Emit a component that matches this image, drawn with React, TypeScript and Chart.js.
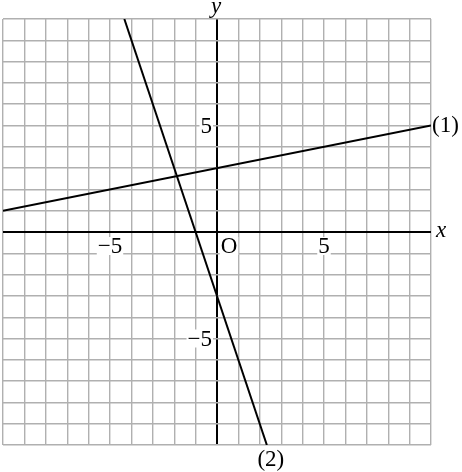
import React, { useEffect, useRef } from "react";
import { Chart, registerables } from "chart.js";

Chart.register(...registerables);

const line1X = [-10, 10];
const line1Y = [1, 5];
const line2X = [-4.33, 2.33];
const line2Y = [10, -10];

const xTickValues = [-5, 5];
const xTickLabels = ["−5", "5"];
const yTickValues = [5, -5];
const yTickLabels = ["5", "−5"];
const originLabel = "O";
const line1Label = "(1)";
const line2Label = "(2)";

const FONT = '"Liberation Serif", "DejaVu Serif", serif';

const labelsPlugin = {
  id: "mathLabels",
  afterDraw(chart: any) {
    const { ctx, scales } = chart;
    const xs = scales.x;
    const ys = scales.y;
    const x0 = xs.getPixelForValue(0);
    const y0 = ys.getPixelForValue(0);
    ctx.save();
    ctx.font = `23px ${FONT}`;
    ctx.fillStyle = "#000";
    const boxText = (t: string, x: number, y: number, align: CanvasTextAlign) => {
      ctx.textAlign = align;
      ctx.textBaseline = "middle";
      const w = ctx.measureText(t).width;
      let left = x - w / 2;
      if (align === "right") left = x - w;
      if (align === "left") left = x;
      ctx.fillStyle = "#fff";
      ctx.fillRect(left - 1, y - 9, w + 2, 18);
      ctx.fillStyle = "#000";
      ctx.fillText(t, x, y + 1);
    };
    xTickValues.forEach((v, i) => {
      boxText(xTickLabels[i], xs.getPixelForValue(v), y0 + 14, "center");
    });
    yTickValues.forEach((v, i) => {
      boxText(yTickLabels[i], x0 - 5, ys.getPixelForValue(v), "right");
    });
    boxText(originLabel, x0 + 12, y0 + 14, "center");
    // line labels
    ctx.textBaseline = "middle";
    ctx.textAlign = "left";
    ctx.fillText(line1Label, xs.getPixelForValue(line1X[1]) + 1, ys.getPixelForValue(line1Y[1]));
    ctx.textAlign = "center";
    ctx.fillText(line2Label, xs.getPixelForValue(line2X[1]) + 4, ys.getPixelForValue(line2Y[1]) + 15);
    // axis names
    ctx.font = `italic 23px ${FONT}`;
    ctx.textAlign = "left";
    ctx.fillText("x", xs.right + 5, y0 - 1);
    ctx.textAlign = "center";
    ctx.fillText("y", x0 - 1, ys.top - 12);
    ctx.restore();
  },
};

export default function App() {
  const ref = useRef<HTMLCanvasElement>(null);
  useEffect(() => {
    if (!ref.current) return;
    const gridColor = (c: any) => (c.tick && c.tick.value === 0 ? "#000" : "#b0b0b0");
    const gridWidth = (c: any) => (c.tick && c.tick.value === 0 ? 2 : 1.4);
    const chart = new Chart(ref.current, {
      type: "scatter",
      data: {
        datasets: [
          {
            label: line1Label,
            data: line1X.map((x, i) => ({ x, y: line1Y[i] })),
            showLine: true,
            borderColor: "#000",
            borderWidth: 2,
            pointRadius: 0,
          },
          {
            label: line2Label,
            data: line2X.map((x, i) => ({ x, y: line2Y[i] })),
            showLine: true,
            borderColor: "#000",
            borderWidth: 2,
            pointRadius: 0,
          },
        ],
      },
      options: {
        animation: false,
        responsive: false,
        devicePixelRatio: 1,
        layout: { padding: { left: 3, right: 31, top: 19, bottom: 27 } },
        plugins: { legend: { display: false }, tooltip: { enabled: false } },
        scales: {
          x: {
            type: "linear",
            min: -10,
            max: 10,
            ticks: { display: false, stepSize: 1 },
            grid: { color: gridColor, lineWidth: gridWidth, drawTicks: false },
            border: { display: false },
          },
          y: {
            type: "linear",
            min: -10,
            max: 10,
            ticks: { display: false, stepSize: 1 },
            grid: { color: gridColor, lineWidth: gridWidth, drawTicks: false },
            border: { display: false },
          },
        },
      },
      plugins: [labelsPlugin],
    });
    return () => chart.destroy();
  }, []);
  return (
    <div style={{ position: "fixed", left: 0, top: 0, width: 462, height: 472, background: "#fff" }}>
      <canvas ref={ref} width={462} height={472} />
    </div>
  );
}
